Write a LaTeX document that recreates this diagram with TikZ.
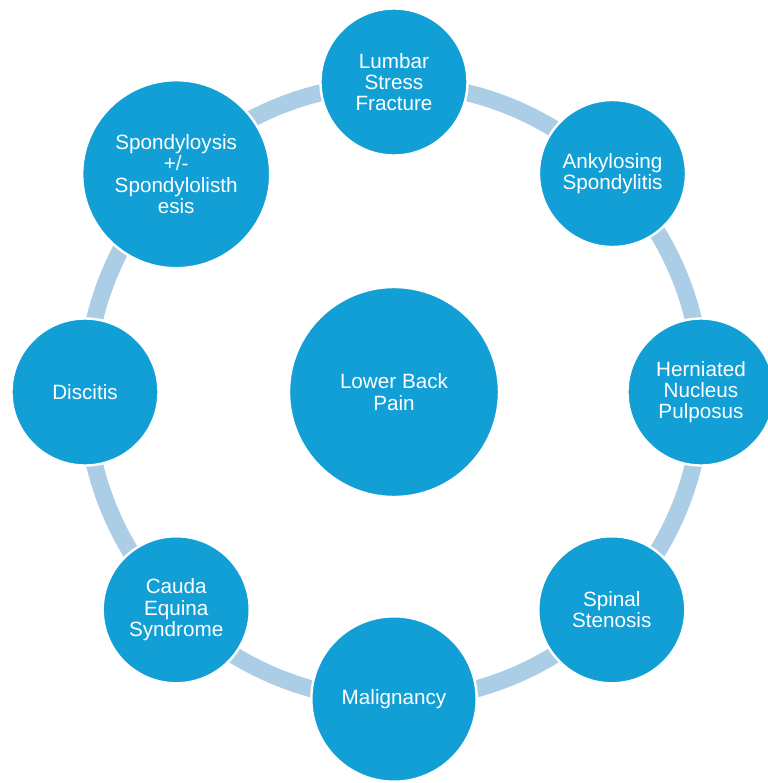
\documentclass[tikz,border=0pt]{standalone}
\usepackage{fontspec}
\setmainfont{Liberation Sans}
\definecolor{discblue}{RGB}{18,159,214}
\definecolor{ringblue}{RGB}{171,205,230}
\tikzset{
  disc/.style={circle, fill=discblue, draw=white, line width=1.8pt, text=white,
    align=center, inner sep=0pt, font=\fontsize{15.5}{16}\selectfont},
  ring/.style={draw=ringblue, line width=12.75pt}
}
\begin{document}
\begin{tikzpicture}[x=0.75pt,y=0.75pt]
\clip (-394,-391) rectangle (374,392);
\node[disc, minimum size=157.5pt] (pain) at (0,0) {Lower Back\\Pain};
\draw[ring] (pain.center) circle[radius=308];

\node[disc, minimum size=110.25pt] (lumbar) at (90:310) {Lumbar\\Stress\\Fracture};
\node[disc, minimum size=110.25pt] (ankylosing) at (45:309) {Ankylosing\\Spondylitis};
\node[disc, minimum size=110.25pt] (herniated) at (0:307) {Herniated\\Nucleus\\Pulposus};
\node[disc, minimum size=110.25pt] (stenosis) at (-45:308) {Spinal\\Stenosis};
\node[disc, minimum size=124pt] (malignancy) at (-90:307) {Malignancy};
\node[disc, minimum size=110.25pt] (cauda) at (-135:308) {Cauda\\Equina\\Syndrome};
\node[disc, minimum size=110.25pt] (discitis) at (180:309) {Discitis};
\node[disc, minimum size=141pt] (spondylo) at (135:308) {Spondyloysis\\+/-\\Spondylolisth\\esis};
\end{tikzpicture}
\end{document}
